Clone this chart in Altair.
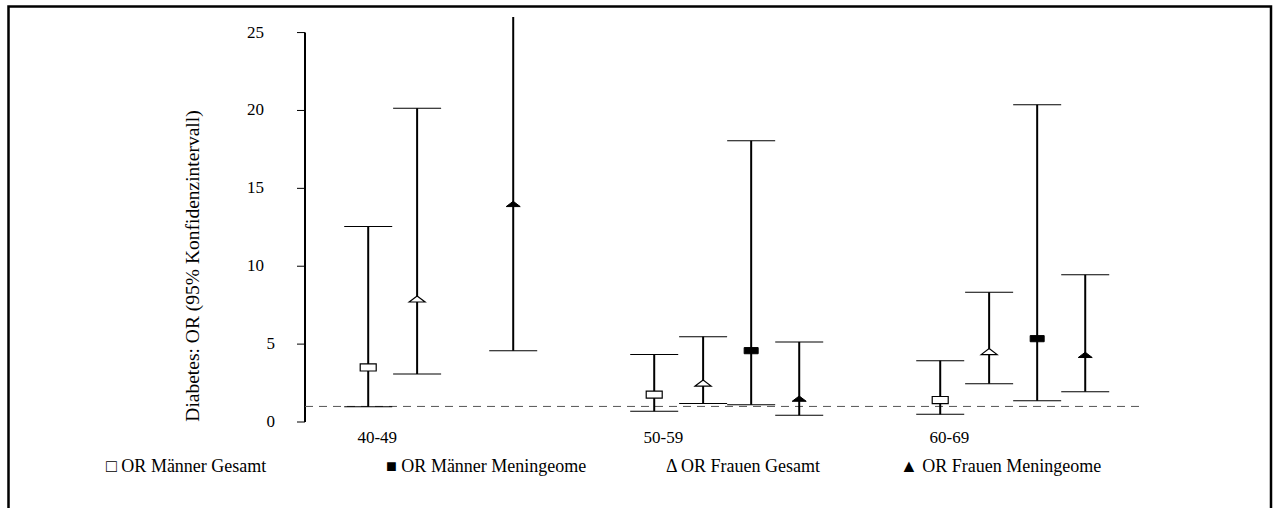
import json

import altair as alt
import pandas as pd

# Age groups on the x axis
age_groups = ["40-49", "50-59", "60-69"]

# Series, in the order they stand inside each age group
series_names = [
    "OR Männer Gesamt",
    "OR Frauen Gesamt",
    "OR Männer Meningeome",
    "OR Frauen Meningeome",
]

# Odds ratios with 95% confidence limits per age group (None = no estimate)
or_men_all = [3.5, 1.76, 1.41]
lo_men_all = [0.98, 0.69, 0.49]
hi_men_all = [12.55, 4.33, 3.94]

or_women_all = [7.9, 2.5, 4.52]
lo_women_all = [3.08, 1.18, 2.46]
hi_women_all = [20.15, 5.48, 8.33]

or_men_mening = [None, 4.58, 5.35]
lo_men_mening = [None, 1.11, 1.37]
hi_men_mening = [None, 18.06, 20.37]

or_women_mening = [14.0, 1.5, 4.31]
lo_women_mening = [4.58, 0.43, 1.95]
hi_women_mening = [31.0, 5.14, 9.45]

reference_or = [1.0]
y_ticks = [0, 5, 10, 15, 20, 25]
y_title = "Diabetes: OR (95% Konfidenzintervall)"

legend_labels = [
    "\u25a1 OR Männer Gesamt",
    "\u25a0 OR Männer Meningeome",
    "\u0394 OR Frauen Gesamt",
    "\u25b2 OR Frauen Meningeome",
]

# ---- layout -------------------------------------------------------------
W, H = 840, 405
FONT = "Liberation Serif"
# dodge of each series relative to its age-group label (in group-step units)
dodge = {
    "OR Männer Gesamt": -0.03,
    "OR Frauen Gesamt": 0.141,
    "OR Männer Meningeome": 0.309,
    "OR Frauen Meningeome": 0.477,
}

estimates = {
    "OR Männer Gesamt": (or_men_all, lo_men_all, hi_men_all),
    "OR Frauen Gesamt": (or_women_all, lo_women_all, hi_women_all),
    "OR Männer Meningeome": (or_men_mening, lo_men_mening, hi_men_mening),
    "OR Frauen Meningeome": (or_women_mening, lo_women_mening, hi_women_mening),
}

rows = []
for s in series_names:
    ors, los, his = estimates[s]
    for gi, g in enumerate(age_groups):
        if ors[gi] is None:
            continue
        rows.append({"group": g, "series": s, "pos": gi + dodge[s],
                     "or": ors[gi], "lo": los[gi], "hi": his[gi]})
df = pd.DataFrame(rows)

x_scale = alt.Scale(domain=[-0.251, 2.686], nice=False, zero=False)
y_scale = alt.Scale(domain=[0, 26], nice=False, zero=False)

label_expr = json.dumps(age_groups) + "[datum.value]"

# ---- y axis, drawn from marks ------------------------------------------
axis_df = pd.DataFrame({"v": [0], "v2": [25]})
y_line = alt.Chart(axis_df).mark_rule(color="black", strokeWidth=2).encode(
    x=alt.value(0),
    y=alt.Y("v:Q", scale=y_scale, axis=None),
    y2="v2:Q",
)

tick_df = pd.DataFrame({"v": y_ticks})
y_tick_marks = alt.Chart(tick_df).mark_rule(color="black", strokeWidth=1).encode(
    y=alt.Y("v:Q", axis=None), x=alt.value(-8), x2=alt.value(0)
)
# one-digit and two-digit labels end at slightly different distances from the axis
y_labels_small = alt.Chart(tick_df).transform_filter("datum.v < 10").mark_text(
    align="right", baseline="middle", font=FONT, fontSize=17, color="black"
).encode(y=alt.Y("v:Q", axis=None), text="v:Q", x=alt.value(-30))
y_labels_big = alt.Chart(tick_df).transform_filter("datum.v >= 10").mark_text(
    align="right", baseline="middle", font=FONT, fontSize=17, color="black"
).encode(y=alt.Y("v:Q", axis=None), text="v:Q", x=alt.value(-41))

y_title_mark = alt.Chart(pd.DataFrame({"t": [y_title]})).mark_text(
    angle=270, align="center", baseline="middle", font=FONT, fontSize=19.5, color="black"
).encode(text="t:N", x=alt.value(-112), y=alt.value(249))

# outer frame around the whole figure
frame = alt.Chart(pd.DataFrame({"k": [0]})).mark_rect(
    fillOpacity=0, stroke="black", strokeWidth=2.5
).encode(
    x=alt.value(-296.5), x2=alt.value(966), y=alt.value(-10.5), y2=alt.value(530)
)

# dashed reference line at OR = 1
ref = alt.Chart(pd.DataFrame({"v": reference_or})).mark_rule(
    color="#555555", strokeWidth=1, strokeDash=[8, 6]
).encode(y=alt.Y("v:Q", axis=None), x=alt.value(0), x2=alt.value(W))

base = alt.Chart(df)

whiskers = base.mark_rule(color="black", strokeWidth=2, clip=True).encode(
    x=alt.X(
        "pos:Q",
        scale=x_scale,
        axis=alt.Axis(
            values=[0, 1, 2],
            labelExpr=label_expr,
            domain=False,
            ticks=False,
            grid=False,
            labelFont=FONT,
            labelFontSize=17,
            labelColor="black",
            labelPadding=7,
            title=None,
        ),
    ),
    y=alt.Y("lo:Q", axis=None),
    y2="hi:Q",
)

cap_lo = base.mark_tick(
    orient="horizontal", size=48, thickness=1, color="black", opacity=1, clip=True
).encode(x="pos:Q", y=alt.Y("lo:Q", axis=None))

cap_hi = base.mark_tick(
    orient="horizontal", size=48, thickness=1, color="black", opacity=1, clip=True
).encode(x="pos:Q", y=alt.Y("hi:Q", axis=None))

RECT = "M-1,-0.44L1,-0.44L1,0.44L-1,0.44Z"
TRI = "M-1,0.38L0,-0.38L1,0.38Z"

marker_styles = {
    "OR Männer Gesamt": dict(shape=RECT, size=256, fill="white", stroke="black", strokeWidth=1.2),
    "OR Männer Meningeome": dict(shape=RECT, size=196, fill="black", stroke="black", strokeWidth=1),
    "OR Frauen Gesamt": dict(shape=TRI, size=256, fill="white", stroke="black", strokeWidth=1.2),
    "OR Frauen Meningeome": dict(shape=TRI, size=196, fill="black", stroke="black", strokeWidth=1),
}

markers = []
for s in series_names:
    st = marker_styles[s]
    markers.append(
        base.transform_filter(alt.datum.series == s)
        .mark_point(filled=True, opacity=1, fillOpacity=1, **st)
        .encode(x="pos:Q", y=alt.Y("or:Q", axis=None))
    )

# legend row below the plot
legend_x = [-199, 81, 361, 595]
legend_layers = []
for lbl, lx in zip(legend_labels, legend_x):
    legend_layers.append(
        alt.Chart(pd.DataFrame({"t": [lbl]})).mark_text(
            align="left", baseline="middle", font=FONT, fontSize=18, color="black"
        ).encode(text="t:N", x=alt.value(lx), y=alt.value(450))
    )

chart = alt.layer(
    y_line, y_tick_marks, y_labels_small, y_labels_big, y_title_mark,
    frame, ref, whiskers, cap_lo, cap_hi, *markers, *legend_layers
).properties(
    width=W,
    height=H,
    autosize=alt.AutoSizeParams(type="none"),
    padding={"left": 305, "top": 17, "right": 131, "bottom": 86},
    background="white",
).configure_view(stroke=None)

chart.save("out.html", embed_options={"renderer": "svg", "actions": False})
